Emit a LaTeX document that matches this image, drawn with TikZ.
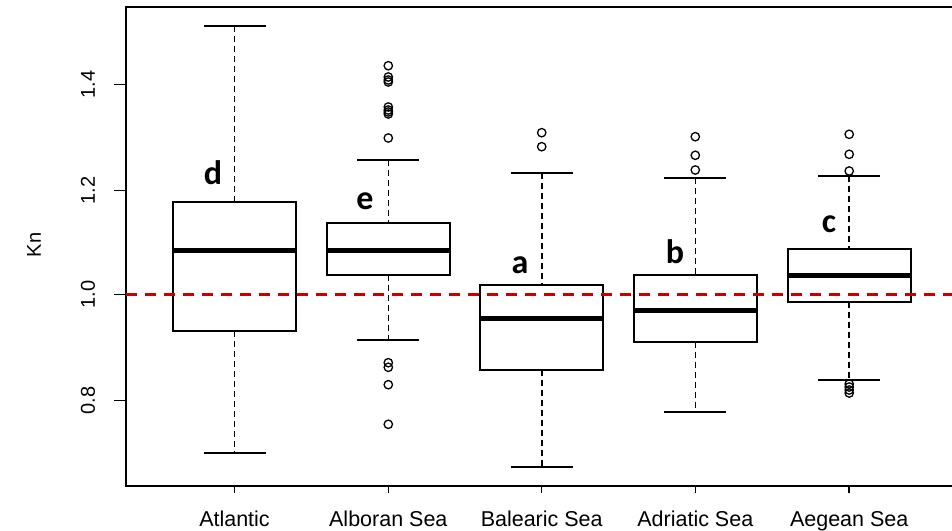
\documentclass[tikz,border=0pt]{standalone}
\usepackage{fontspec}
\setmainfont{Liberation Sans}
\newfontfamily\letterfont{Carlito}
\begin{document}
\begin{tikzpicture}[x=1pt,y=-1pt,
  frameline/.style={line width=1.5pt,black},
  boxline/.style={line width=1.8pt,black,fill=white},
  medline/.style={line width=5pt,black},
  whisk/.style={line width=1.6pt,dash pattern=on 6pt off 4pt},
  capline/.style={line width=1.8pt},
  outl/.style={line width=1.3pt},
  refline/.style={line width=3pt,color=refred,dash pattern=on 11pt off 8pt},
  ticklab/.style={font=\fontsize{20}{20}\selectfont,rotate=90,inner sep=0pt},
  xlab/.style={font=\fontsize{21.5}{21.5}\selectfont,inner sep=0pt,anchor=base},
  grp/.style={font=\fontsize{34}{34}\selectfont\letterfont\bfseries,inner sep=0pt}]
\definecolor{refred}{RGB}{200,0,0}
\useasboundingbox (0,0) rectangle (952,530);
\fill[white] (0,0) rectangle (952,530);
% frame
\draw[frameline] (952,7) -- (126,7) -- (126,486) -- (952,486);
% y ticks
\foreach \yy/\lab in {84.7/1.4,190.3/1.2,294.7/1.0,400.3/0.8}{
  \draw[frameline] (114,\yy) -- (126,\yy);
  \node[ticklab] (yt\lab) at (88,\yy) {\lab};
}
\node[ticklab] (ylab) at (34,245) {Kn};
% boxplot macro
\newcommand\mybxp[6]{%
  \draw[whisk] (#1,#2) -- (#1,#3);
  \draw[whisk] (#1,#5) -- (#1,#6);
  \draw[capline] (#1-31,#2) -- (#1+31,#2);
  \draw[capline] (#1-31,#6) -- (#1+31,#6);
  \draw[boxline] (#1-61.5,#3) rectangle (#1+61.5,#5);
  \draw[medline] (#1-61.5,#4) -- (#1+61.5,#4);
  \draw[frameline] (#1,486) -- (#1,493);
}
\mybxp{234.5}{26}{202}{250}{331.3}{452.7}
\mybxp{388.3}{160.3}{222.7}{250}{274.7}{340}
\mybxp{541.7}{172.7}{285}{318.7}{369.7}{467.3}
\mybxp{695.3}{178.3}{275}{310.7}{341.7}{412}
\mybxp{849.2}{175.7}{249}{275}{302}{380}
% outliers
\foreach \yy in {65.7,77,80,82,107,110,112,114,138,362.7,367.3,384.7,424.3}
  \draw[outl] (388.3,\yy) circle (4.2);
\foreach \yy in {132.7,146.7}
  \draw[outl] (541.7,\yy) circle (4.2);
\foreach \yy in {136.7,155.3,170}
  \draw[outl] (695.3,\yy) circle (4.2);
\foreach \yy in {134.3,154.3,171,384,387,390,393}
  \draw[outl] (849.2,\yy) circle (4.2);
% reference line
\draw[refline] (126,294.7) -- (952,294.7);
% group letters
\node[grp] (gd) at (213,173) {d};
\node[grp] (ge) at (365,201) {e};
\node[grp] (ga) at (520,265) {a};
\node[grp] (gb) at (675,252) {b};
\node[grp] (gc) at (829,224) {c};
% x labels
\node[xlab] (x1) at (234.5,526) {Atlantic};
\node[xlab] (x2) at (388.3,526) {Alboran Sea};
\node[xlab] (x3) at (541.7,526) {Balearic Sea};
\node[xlab] (x4) at (695.3,526) {Adriatic Sea};
\node[xlab] (x5) at (849.2,526) {Aegean Sea};
\end{tikzpicture}
\end{document}
